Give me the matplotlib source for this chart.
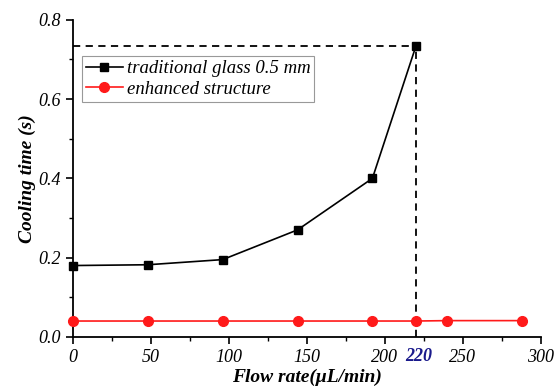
import matplotlib
matplotlib.use("Agg")
import matplotlib.pyplot as plt
from matplotlib.ticker import MultipleLocator, FormatStrFormatter

plt.rcParams['font.family'] = ['Liberation Serif', 'DejaVu Serif']

flow_trad = [0, 48, 96, 144, 192, 220]
time_trad = [0.18, 0.182, 0.195, 0.27, 0.40, 0.735]
flow_enh = [0, 48, 96, 144, 192, 220, 240, 288]
time_enh = [0.04, 0.04, 0.04, 0.04, 0.04, 0.04, 0.041, 0.041]
mark_x = 220
mark_y = 0.735

fig = plt.figure(figsize=(5.57, 3.89), dpi=100)
ax = fig.add_axes([0.131, 0.134, 0.840, 0.815])

ax.plot([0, mark_x], [mark_y, mark_y], ls=(0, (4, 3)), color='black', lw=1.3, zorder=1)
ax.plot([mark_x, mark_x], [0, mark_y], ls=(0, (4, 3)), color='black', lw=1.3, zorder=1)

ax.plot(flow_trad, time_trad, '-s', color='black', lw=1.2, ms=6,
        label='traditional glass 0.5 mm', clip_on=False, zorder=3)
ax.plot(flow_enh, time_enh, '-o', color='#ff1a1a', lw=1.2, ms=7,
        label='enhanced structure', clip_on=False, zorder=3)

ax.set_xlim(0, 300)
ax.set_ylim(0, 0.8)
ax.xaxis.set_major_locator(MultipleLocator(50))
ax.xaxis.set_minor_locator(MultipleLocator(25))
ax.yaxis.set_major_locator(MultipleLocator(0.2))
ax.yaxis.set_minor_locator(MultipleLocator(0.1))
ax.yaxis.set_major_formatter(FormatStrFormatter('%.1f'))

for s in ['top', 'right']:
    ax.spines[s].set_visible(False)
for s in ['left', 'bottom']:
    ax.spines[s].set_linewidth(1.3)

ax.tick_params(which='major', direction='out', length=5, width=1.2, labelsize=13)
ax.tick_params(which='minor', direction='out', length=3, width=1.0)
for lab in ax.get_xticklabels() + ax.get_yticklabels():
    lab.set_fontstyle('italic')

ax.text(mark_x + 1.5, -0.028, '220', color='#1a1a8c', fontsize=13, fontweight='bold',
        fontstyle='italic', ha='center', va='top', transform=ax.transData)

ax.set_xlabel('Flow rate(μL/min)', fontsize=14, fontweight='bold', fontstyle='italic', labelpad=2)
ax.set_ylabel('Cooling time (s)', fontsize=14, fontweight='bold', fontstyle='italic', labelpad=2)

leg = ax.legend(loc='upper left', bbox_to_anchor=(0.019, 0.885), borderaxespad=0,
                prop={'style': 'italic', 'size': 13.5},
                frameon=True, fancybox=False, edgecolor='#808080', handlelength=2.0,
                borderpad=0.2, labelspacing=0.2, handletextpad=0.2)
leg.get_frame().set_linewidth(0.8)

fig.savefig('out.png', dpi=100)
